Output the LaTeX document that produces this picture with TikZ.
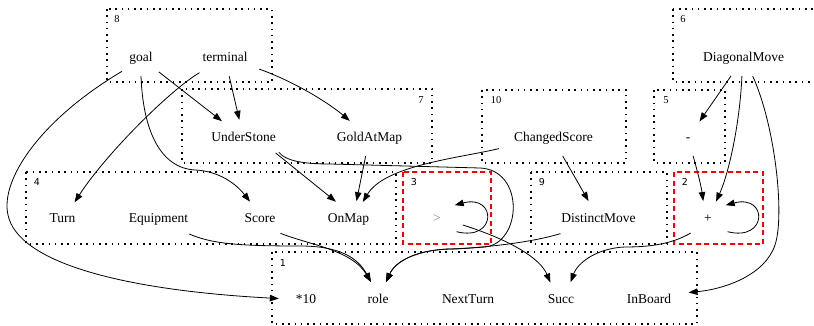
\documentclass[tikz,border=0pt]{standalone}
\usepackage{fontspec}
\setmainfont{Liberation Serif}
\newfontfamily\clsans{DejaVu Sans}
\usetikzlibrary{shapes.geometric,arrows.meta}

\begin{document}
\begin{tikzpicture}[x=1pt,y=-1pt,
  nd/.style={ellipse,inner xsep=8pt,inner ysep=2pt,minimum height=36pt,
    minimum width=54pt,text height=10pt,text depth=3pt,
    font=\fontsize{13.5}{14}\selectfont},
  edge/.style={draw=black,line width=0.8pt,-{Triangle[length=9pt,width=6.5pt]}},
  grp/.style={draw=black,line width=1.6pt,dash pattern=on 1.6pt off 4.7pt},
  hot/.style={draw=red,line width=1.8pt,dash pattern=on 5pt off 3.5pt},
  lblserif/.style={inner sep=0pt,font=\fontsize{10.5}{12}\selectfont},
  lblsans/.style={inner sep=0pt,font=\clsans\fontsize{9.5}{11}\selectfont}]
\useasboundingbox (0,0) rectangle (814,326);
\begin{scope}
\clip (0,0) rectangle (814,326);

% cluster frames
\draw[grp] (107,9) rectangle (272,82);
\draw[grp] (182,89) rectangle (432,163);
\draw[grp] (482,90) rectangle (626,163);
\draw[grp] (654,90) rectangle (725,163);
\draw[grp] (673,9) rectangle (840,82);
\draw[grp] (26,172) rectangle (396,244);
\draw[grp] (531,172) rectangle (667,244);
\draw[grp] (272,252) rectangle (697,324);
\draw[hot] (403,172) rectangle (491,244);
\draw[hot] (674,172) rectangle (763,244);
\end{scope}

% cluster labels
\node[lblserif] (c8) at (117,19) {8};
\node[lblserif] (c7) at (421,100) {7};
\node[lblserif] (c10) at (496,100) {10};
\node[lblserif] (c5) at (666,100) {5};
\node[lblserif] (c6) at (683,19) {6};
\node[lblsans] (c4) at (37,182) {4};
\node[lblsans] (c3) at (414,182) {3};
\node[lblsans] (c9) at (542,182) {9};
\node[lblsans] (c2) at (685,182) {2};
\node[lblsans] (c1) at (283,263) {1};

% nodes
\node[nd] (goal) at (141,58) {goal};
\node[nd] (terminal) at (225,58) {terminal};
\node[nd] (DiagonalMove) at (743.5,58) {DiagonalMove};
\node[nd] (UnderStone) at (243.5,138) {UnderStone};
\node[nd] (GoldAtMap) at (369.5,138) {GoldAtMap};
\node[nd] (ChangedScore) at (553.5,138) {ChangedScore};
\node[nd] (minus) at (688,138) {-};
\node[nd] (Turn) at (62.5,219) {Turn};
\node[nd] (Equipment) at (158.5,219) {Equipment};
\node[nd] (Score) at (260,219) {Score};
\node[nd] (OnMap) at (348.5,219) {OnMap};
\node[nd,text=gray] (gt) at (437,219) {>};
\node[nd] (DistinctMove) at (598.5,219) {DistinctMove};
\node[nd] (plus) at (708,219) {+};
\node[nd] (ten) at (306,299.5) {*10};
\node[nd] (role) at (378,299.5) {role};
\node[nd] (NextTurn) at (468,299.5) {NextTurn};
\node[nd] (Succ) at (561,299.5) {Succ};
\node[nd] (InBoard) at (649,299.5) {InBoard};

% edges
\draw[edge] (goal) -- (UnderStone);
\draw[edge] (terminal) -- (UnderStone);
\draw[edge] (terminal.-18) .. controls (290,80) and (325,100) .. (GoldAtMap.139);
\draw[edge] (terminal.210) .. controls (170,90) and (105,155) .. (Turn.54);
\draw[edge] (goal.-90) .. controls (143,130) and (160,168) .. (195,170)
  .. controls (220,171) and (237,185) .. (Score.120);
\draw[edge] (goal.-145) .. controls (40,120) and (0,180) .. (8,215)
  .. controls (18,262) and (120,290) .. (ten.178);
\draw[edge] (Equipment.-26) .. controls (212,244) and (240,246) .. (300,246)
  .. controls (340,246) and (358,258) .. (role.112);
\draw[edge] (Score.-35) .. controls (310,245) and (352,250) .. (role.112);
\draw[edge] (UnderStone.-25) -- (OnMap.126);
\draw[edge] (UnderStone.-22) .. controls (285,160) and (300,164) .. (330,164)
  -- (480,168) .. controls (525,170) and (522,243) .. (485,247)
  .. controls (470,248) and (460,249) .. (450,249)
  .. controls (415,250) and (395,262) .. (role.65);
\draw[edge] (GoldAtMap.-102) -- (OnMap.66);
\draw[edge] (ChangedScore.191) .. controls (460,158) and (385,165) .. (OnMap.50);
\draw[edge] (ChangedScore.-63) -- (DistinctMove.119);
\draw[edge] (DistinctMove.201) .. controls (530,243) and (480,248) .. (450,249)
  .. controls (415,250) and (395,262) .. (role.65);
\draw[edge] (gt.-33) .. controls (497,242) and (497,194) .. (gt.38);
\draw[edge] (gt.-13) .. controls (510,240) and (540,258) .. (Succ.122);
\draw[edge] (plus.219) .. controls (672,244) and (650,247) .. (625,247)
  .. controls (598,248) and (578,262) .. (Succ.61);
\draw[edge] (plus.-33) .. controls (768,242) and (768,194) .. (plus.38);
\draw[edge] (minus.-74) .. controls (697,170) and (701,185) .. (plus.105);
\draw[edge] (DiagonalMove) -- (minus);
\draw[edge] (DiagonalMove.-95) .. controls (740,120) and (730,170) .. (plus.65);
\draw[edge] (DiagonalMove.-63) .. controls (775,125) and (785,215) .. (775,245)
  .. controls (765,275) and (725,289) .. (InBoard.10);
\end{tikzpicture}
\end{document}
